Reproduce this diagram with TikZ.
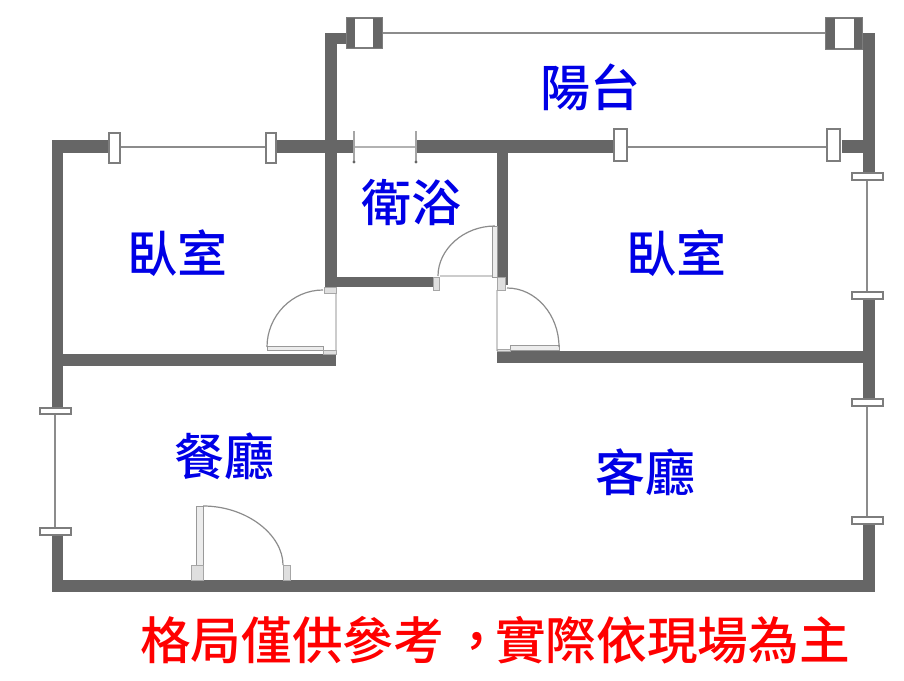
\documentclass[tikz,border=0pt]{standalone}
\usepackage{fontspec}
\newfontfamily\cjkfont{Noto Sans CJK TC Medium}
\usepackage{tikz}
\definecolor{wallgray}{HTML}{666666}
\definecolor{roomblue}{HTML}{0000E6}
\tikzset{
  wall/.style={draw=none, fill=wallgray},
  sill/.style={draw=wallgray!75, line width=2.4pt},
  capbox/.style={draw=wallgray!85, line width=1.6pt, fill=white},
  leaf/.style={draw=gray!80, line width=1pt, fill=gray!15},
  swing/.style={draw=gray!90, line width=1.2pt},
  jamb/.style={draw=gray!70, line width=0.8pt, fill=gray!25},
  sweep/.style={draw=gray!40, line width=1.2pt},
  room/.style={text=roomblue, font=\cjkfont\fontsize{50}{52}\selectfont, inner sep=0pt},
  notice/.style={text=red, font=\cjkfont\fontsize{50.7}{52}\selectfont, inner sep=0pt},
}
\begin{document}
\begin{tikzpicture}[x=1pt, y=-1pt]
    \useasboundingbox (0,0) rectangle (904,680);
    % walls
    \fill[wall] (52,140) rectangle (108,153);
    \fill[wall] (277,140) rectangle (355,153);
    \fill[wall] (416,140) rectangle (613,153);
    \fill[wall] (842,140) rectangle (863,153);
    \fill[wall] (52,140) rectangle (63,407);
    \fill[wall] (52,536) rectangle (63,592);
    \fill[wall] (52,580) rectangle (875,592);
    \fill[wall] (52,354) rectangle (336,366);
    \fill[wall] (497,351) rectangle (875,363);
    \fill[wall] (325,33) rectangle (337,287);
    \fill[wall] (325,33) rectangle (346,44);
    \fill[wall] (325,277) rectangle (433,287);
    \fill[wall] (497,147) rectangle (508,285);
    \fill[wall] (863,33) rectangle (875,172);
    \fill[wall] (863,300) rectangle (875,398);
    \fill[wall] (863,525) rectangle (875,592);
    % windows
    \draw[sill] (383,33) -- (826,33);
    \draw[sill] (121,147) -- (265,147);
    \draw[sill] (628,147) -- (826,147);
    \draw[sill] (867,181) -- (867,291);
    \draw[sill] (867,407) -- (867,516);
    \draw[sill] (55,415) -- (55,527);
    \draw[draw=gray!60, line width=1.6pt] (355,147) -- (416,147);
    \draw[capbox] (347,18) rectangle (382,48);
    \fill[wallgray] (347,18) rectangle (355,48);
    \fill[wallgray] (373,18) rectangle (382,48);
    \draw[capbox] (826,18) rectangle (862,49);
    \fill[wallgray] (826,18) rectangle (835,49);
    \fill[wallgray] (854,18) rectangle (862,49);
    \draw[capbox] (109,133) rectangle (120,163);
    \draw[capbox] (266,133) rectangle (276,163);
    \draw[capbox] (614,129) rectangle (627,161);
    \draw[capbox] (827,129) rectangle (840,161);
    \draw[capbox] (852,173) rectangle (883,180);
    \draw[capbox] (852,292) rectangle (883,299);
    \draw[capbox] (852,399) rectangle (883,406);
    \draw[capbox] (852,517) rectangle (883,524);
    \draw[capbox] (40,408) rectangle (71,414);
    \draw[capbox] (40,528) rectangle (71,535);
    \draw[draw=gray!70, line width=2pt] (354,131) -- (354,162);
    \draw[draw=gray!70, line width=2pt] (416,131) -- (416,162);
    \fill[wallgray] (354,162) circle (1.6) (416,162) circle (1.6);
    % doors
    \draw[sweep] (336,290) -- (336,354);
    \draw[sweep] (497,290) -- (497,351);
    \draw[sweep] (440,276) -- (492,276);
    \draw[leaf] (267,346) rectangle (323,350);
    \draw[jamb] (323,350) rectangle (336,354);
    \draw[jamb] (324,287) rectangle (336,293);
    \draw[swing] (323,290) .. controls (292,290) and (267,316) .. (267,347);
    \draw[leaf] (510,345) rectangle (559,350);
    \draw[jamb] (497,349) rectangle (510,351);
    \draw[jamb] (497,277) rectangle (505,290);
    \draw[swing] (507,288) .. controls (536,288) and (559,315) .. (559,347);
    \draw[leaf] (492,226) rectangle (497,277);
    \draw[jamb] (433,277) rectangle (439,290);
    \draw[swing] (495,226) .. controls (464,226) and (438,249) .. (438,276);
    \draw[leaf] (196,506) rectangle (203,565);
    \draw[jamb] (191,565) rectangle (203,580);
    \draw[jamb] (283,565) rectangle (290,580);
    \draw[swing] (203,506) .. controls (247,506) and (283,535) .. (283,565);
    % labels
    \node[room] (balcony) at (590,87) {陽台};
    \node[room] (bedroomA) at (177,253) {臥室};
    \node[room] (bathroom) at (411,202) {衛浴};
    \node[room] (bedroomB) at (676,253) {臥室};
    \node[room] (dining) at (224,456) {餐廳};
    \node[room] (living) at (645,472) {客廳};
    \node[notice] (disclaimer) at (495,640) {格局僅供參考\kern7pt，\kern-7pt實際依現場為主};
\end{tikzpicture}
\end{document}
